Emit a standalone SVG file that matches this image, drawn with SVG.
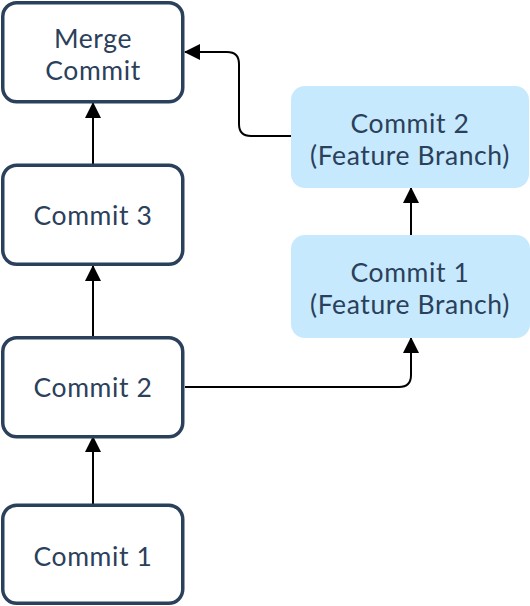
<svg xmlns="http://www.w3.org/2000/svg" width="530" height="606" viewBox="0 0 530 606">
<defs>
<style>
.main rect{fill:#ffffff;stroke:#2b405b;stroke-width:3.5}
.feat rect{fill:#c6e9fd;stroke:none}
text{font-family:Lato,"Liberation Sans",sans-serif;font-size:26.5px;letter-spacing:0.6px;fill:#2b405b;text-anchor:middle}
.conn path{fill:none;stroke:#000;stroke-width:2}
</style>
<marker id="ah" viewBox="0 0 16 16" refX="15" refY="8" markerWidth="16" markerHeight="16" markerUnits="userSpaceOnUse" orient="auto">
<path d="M0,0 L16,8 L0,16 Z" fill="#000"/>
</marker>
</defs>
<rect width="530" height="606" fill="#ffffff"/>
<g class="conn">
<path d="M93,165 V103" marker-end="url(#ah)"/>
<path d="M93,337 V266" marker-end="url(#ah)"/>
<path d="M93,505 V437" marker-end="url(#ah)"/>
<path d="M185,387 H399 Q411,387 411,375 V338" marker-end="url(#ah)"/>
<path d="M411,235 V188" marker-end="url(#ah)"/>
<path d="M291,136 H251 Q239,136 239,124 V64 Q239,52 227,52 H185" marker-end="url(#ah)"/>
</g>
<g id="merge" class="main"><rect x="2.75" y="2.75" width="180" height="99" rx="14"/><text x="93" y="48">Merge</text><text x="93" y="80">Commit</text></g>
<g id="commit3" class="main"><rect x="2.75" y="165.25" width="180" height="99" rx="14"/><text x="93" y="225">Commit 3</text></g>
<g id="commit2" class="main"><rect x="2.75" y="337.75" width="180" height="99" rx="14"/><text x="93" y="397">Commit 2</text></g>
<g id="commit1" class="main"><rect x="2.75" y="505.25" width="180" height="98" rx="14"/><text x="93" y="566">Commit 1</text></g>
<g id="feat2" class="feat"><rect x="291" y="86" width="238" height="102" rx="14"/><text x="410" y="133">Commit 2</text><text x="410" y="165">(Feature Branch)</text></g>
<g id="feat1" class="feat"><rect x="291" y="235" width="239" height="103" rx="14"/><text x="410" y="282">Commit 1</text><text x="410" y="314">(Feature Branch)</text></g>
</svg>
